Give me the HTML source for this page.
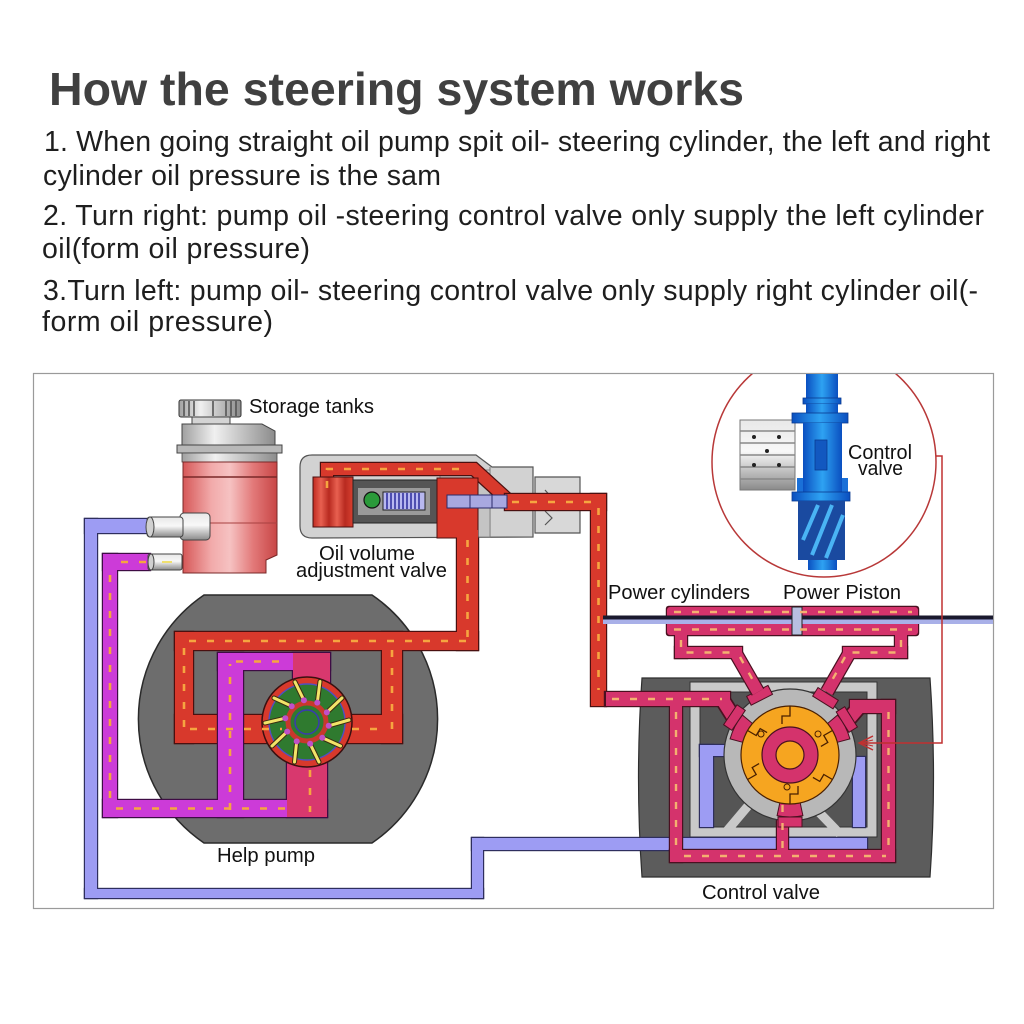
<!DOCTYPE html>
<html><head><meta charset="utf-8">
<style>
html,body{margin:0;padding:0;background:#fff;}
svg{display:block;}
text{font-family:"Liberation Sans",Arial,sans-serif;}
</style></head><body>
<svg width="1024" height="1024" viewBox="0 0 1024 1024" xmlns="http://www.w3.org/2000/svg">
<defs>
<linearGradient id="redg" x1="0" x2="1" y1="0" y2="0">
<stop offset="0" stop-color="#d65858"/><stop offset="0.3" stop-color="#f2aaaa"/><stop offset="0.5" stop-color="#f6c2c2"/><stop offset="0.75" stop-color="#e27878"/><stop offset="1" stop-color="#c84646"/>
</linearGradient>
<linearGradient id="grayg" x1="0" x2="1" y1="0" y2="0">
<stop offset="0" stop-color="#a0a0a0"/><stop offset="0.35" stop-color="#f0f0f0"/><stop offset="1" stop-color="#8c8c8c"/>
</linearGradient>
<linearGradient id="grayv" x1="0" x2="0" y1="0" y2="1">
<stop offset="0" stop-color="#e8e8e8"/><stop offset="0.45" stop-color="#f8f8f8"/><stop offset="1" stop-color="#8a8a8a"/>
</linearGradient>
<linearGradient id="blueg" x1="0" x2="1" y1="0" y2="0">
<stop offset="0" stop-color="#0a4fc0"/><stop offset="0.5" stop-color="#2ea2f2"/><stop offset="1" stop-color="#0a4fc0"/>
</linearGradient>
<linearGradient id="springg" x1="0" x2="1" y1="0" y2="0">
<stop offset="0" stop-color="#c02a20"/><stop offset="0.2" stop-color="#e86050"/><stop offset="0.4" stop-color="#b82a20"/><stop offset="0.6" stop-color="#e86050"/><stop offset="0.8" stop-color="#b82a20"/><stop offset="1" stop-color="#d84030"/>
</linearGradient>
<clipPath id="fr"><rect x="34" y="374" width="959" height="534"/></clipPath>
</defs>
<rect width="1024" height="1024" fill="#fff"/>

<!-- Heading text -->
<text x="49" y="105" font-size="46" font-weight="bold" fill="#404040" textLength="695" lengthAdjust="spacingAndGlyphs">How the steering system works</text>
<g font-size="28.5" fill="#1e1e1e">
<text x="44" y="151" textLength="946" lengthAdjust="spacing">1. When going straight oil pump spit oil- steering cylinder, the left and right</text>
<text x="43" y="185" textLength="398" lengthAdjust="spacing">cylinder oil pressure is the sam</text>
<text x="43" y="225" textLength="941" lengthAdjust="spacing">2. Turn right: pump oil -steering control valve only supply the left cylinder</text>
<text x="42" y="258" textLength="268" lengthAdjust="spacing">oil(form oil pressure)</text>
<text x="43" y="300" textLength="935" lengthAdjust="spacing">3.Turn left: pump oil- steering control valve only supply right cylinder oil(-</text>
<text x="42" y="331" textLength="231" lengthAdjust="spacing">form oil pressure)</text>
</g>

<!-- frame -->
<rect x="33.5" y="373.5" width="960" height="535" fill="#fff" stroke="#9a9a9a" stroke-width="1.2"/>

<g clip-path="url(#fr)">
<!-- inset ellipse -->
<ellipse cx="824" cy="462" rx="112" ry="115" fill="none" stroke="#b83838" stroke-width="1.5"/>

<!-- pump housing -->
<path d="M204,595 L372,595 A150,150 0 0 1 372,843 L204,843 A150,150 0 0 1 204,595 Z" fill="#6d6d6d" stroke="#2a2a2a" stroke-width="1.5"/>

<!-- red pump loop: outline -->
<g fill="#4a1010">
<rect x="455.8" y="528" width="23.4" height="123.2"/>
<rect x="173.8" y="630.8" width="305.4" height="20.4"/>
<rect x="173.8" y="630.8" width="20.4" height="113.4"/>
<rect x="173.8" y="713.8" width="229.4" height="30.4"/>
<rect x="380.8" y="630.8" width="22.4" height="113.4"/>
</g>
<g fill="#d8392c">
<rect x="457" y="528" width="21" height="122"/>
<rect x="175" y="632" width="303" height="18"/>
<rect x="175" y="632" width="18" height="111"/>
<rect x="175" y="715" width="227" height="28"/>
<rect x="382" y="632" width="20" height="111"/>
</g>

<!-- magenta channels -->
<g fill="#3e0c44">
<rect x="101.8" y="552.8" width="49.4" height="18.4"/>
<rect x="101.8" y="552.8" width="16.4" height="265.4"/>
<rect x="101.8" y="798.8" width="226.4" height="19.4"/>
<rect x="216.8" y="651.8" width="27.4" height="166.4"/>
<rect x="216.8" y="651.8" width="114.4" height="19.4"/>
<rect x="291.8" y="651.8" width="39.4" height="39.4"/>
<rect x="285.8" y="753.8" width="42.4" height="64.4"/>
</g>
<g fill="#cc3bd8">
<rect x="103" y="554" width="47" height="16"/>
<rect x="103" y="554" width="14" height="263"/>
<rect x="103" y="800" width="224" height="17"/>
<rect x="218" y="653" width="25" height="164"/>
<rect x="218" y="653" width="112" height="17"/>
</g>
<g fill="#d8386e">
<rect x="293" y="653" width="37" height="37"/>
<rect x="287" y="755" width="40" height="62"/>
</g>

<!-- pump rotor -->
<circle cx="307" cy="722" r="45" fill="#d8392c" stroke="#3a1010" stroke-width="1.5"/>
<circle cx="307" cy="722" r="38" fill="#2f7a2f" stroke="#5050c0" stroke-width="1.5"/>
<circle cx="307" cy="722" r="19" fill="none" stroke="#c8382c" stroke-width="5"/>
<circle cx="307" cy="722" r="12" fill="#2f7a2f" stroke="#3a3ab0" stroke-width="1.5"/>
<g stroke="#3a2a10" stroke-width="5" stroke-linecap="round">
<line x1="328.7" y1="725.8" x2="349" y2="720"/>
<line x1="322.3" y1="737.8" x2="340.5" y2="746"/>
<line x1="310.1" y1="743.8" x2="319" y2="762"/>
<line x1="296.7" y1="741.4" x2="294.5" y2="762"/>
<line x1="287.2" y1="731.6" x2="272" y2="746"/>
<line x1="285.3" y1="718.2" x2="265" y2="723"/>
<line x1="291.7" y1="706.2" x2="274" y2="698"/>
<line x1="303.9" y1="700.2" x2="295" y2="682"/>
<line x1="317.3" y1="702.6" x2="320" y2="681.5"/>
<line x1="326.8" y1="712.4" x2="342" y2="698"/>
</g>
<g stroke="#f2e468" stroke-width="3" stroke-linecap="round">
<line x1="328.7" y1="725.8" x2="349" y2="720"/>
<line x1="322.3" y1="737.8" x2="340.5" y2="746"/>
<line x1="310.1" y1="743.8" x2="319" y2="762"/>
<line x1="296.7" y1="741.4" x2="294.5" y2="762"/>
<line x1="287.2" y1="731.6" x2="272" y2="746"/>
<line x1="285.3" y1="718.2" x2="265" y2="723"/>
<line x1="291.7" y1="706.2" x2="274" y2="698"/>
<line x1="303.9" y1="700.2" x2="295" y2="682"/>
<line x1="317.3" y1="702.6" x2="320" y2="681.5"/>
<line x1="326.8" y1="712.4" x2="342" y2="698"/>
</g>
<g fill="#c050c8">
<circle cx="328.7" cy="725.8" r="3"/><circle cx="322.3" cy="737.8" r="3"/><circle cx="310.1" cy="743.8" r="3"/><circle cx="296.7" cy="741.4" r="3"/><circle cx="287.2" cy="731.6" r="3"/><circle cx="285.3" cy="718.2" r="3"/><circle cx="291.7" cy="706.2" r="3"/><circle cx="303.9" cy="700.2" r="3"/><circle cx="317.3" cy="702.6" r="3"/><circle cx="326.8" cy="712.4" r="3"/>
</g>

<!-- blue return pipe (left/bottom) -->
<g fill="#2e2e5e">
<rect x="83.8" y="517.8" width="64.4" height="16.4"/>
<rect x="83.8" y="517.8" width="14.4" height="381.4"/>
<rect x="83.8" y="887.8" width="400.4" height="11.4"/>
<rect x="470.8" y="836.8" width="13.4" height="62.4"/>
<rect x="470.8" y="836.8" width="170" height="14.4"/>
</g>
<g fill="#9d9cf3">
<rect x="85" y="519" width="63" height="14"/>
<rect x="85" y="519" width="12" height="379"/>
<rect x="85" y="889" width="398" height="9"/>
<rect x="472" y="838" width="11" height="60"/>
<rect x="472" y="838" width="170" height="12"/>
</g>

<!-- storage tank -->
<rect x="179" y="400" width="62" height="17" rx="2" fill="url(#grayg)" stroke="#333" stroke-width="1"/>
<g stroke="#555" stroke-width="1.6">
<line x1="184" y1="401" x2="184" y2="416"/><line x1="189" y1="401" x2="189" y2="416"/><line x1="194" y1="401" x2="194" y2="416"/><line x1="213" y1="401" x2="213" y2="416"/><line x1="226" y1="401" x2="226" y2="416"/><line x1="231" y1="401" x2="231" y2="416"/><line x1="236" y1="401" x2="236" y2="416"/>
</g>
<rect x="192" y="417" width="38" height="7" fill="#d4d4d4" stroke="#444" stroke-width="1"/>
<path d="M182,424 L262,424 L275,431 L275,445 L182,445 Z" fill="url(#grayg)" stroke="#444" stroke-width="1"/>
<rect x="177" y="445" width="105" height="8" fill="#b8b8b8" stroke="#444" stroke-width="1"/>
<rect x="182" y="453" width="95" height="9" fill="url(#grayg)" stroke="#444" stroke-width="0.8"/>
<path d="M183,462 H277 V555 L266,560 L266,573 H183 Z" fill="url(#redg)" stroke="#7a2828" stroke-width="1"/>
<line x1="183" y1="477" x2="277" y2="477" stroke="#7a2828" stroke-width="1.5"/>
<line x1="183" y1="523" x2="277" y2="523" stroke="#a84040" stroke-width="1"/>
<rect x="180" y="513" width="30" height="27" rx="4" fill="url(#grayv)" stroke="#444" stroke-width="1"/>
<rect x="147" y="517" width="36" height="20" rx="3" fill="url(#grayv)" stroke="#444" stroke-width="1"/>
<ellipse cx="150" cy="527" rx="4" ry="10" fill="#d0d0d0" stroke="#444" stroke-width="1"/>
<rect x="148" y="554" width="34" height="16" rx="2" fill="url(#grayv)" stroke="#444" stroke-width="1"/>
<ellipse cx="151" cy="562" rx="3" ry="8" fill="#d0d0d0" stroke="#444" stroke-width="1"/>
<line x1="162" y1="562" x2="172" y2="562" stroke="#f0e070" stroke-width="2"/>

<!-- oil volume adjustment valve -->
<path d="M300,467 Q300,455 312,455 L476,455 L492,467 L533,467 L533,537 L312,538 Q300,538 300,526 Z" fill="#d2d2d2" stroke="#555" stroke-width="1.2"/>
<line x1="490" y1="467" x2="490" y2="537" stroke="#777" stroke-width="1"/>
<rect x="440" y="470" width="50" height="67" fill="#c4c4c4" stroke="#777" stroke-width="0.8"/>
<path d="M535,477 H580 V533 H535 Z" fill="#d8d8d8" stroke="#555" stroke-width="1.2"/>
<path d="M545,490 L552,498 L545,506 M545,511 L552,518 L545,525" fill="none" stroke="#555" stroke-width="1.2"/>
<path d="M327,492 V469 H474 L508,500" fill="none" stroke="#4a1010" stroke-width="14.4" stroke-linejoin="miter"/>
<path d="M327,492 V469 H474 L508,500" fill="none" stroke="#d8392c" stroke-width="12" stroke-linejoin="miter"/>
<rect x="313" y="477" width="40" height="50" fill="url(#springg)" stroke="#4a1010" stroke-width="1"/>
<rect x="353" y="480" width="84" height="43" fill="#555" stroke="#222" stroke-width="1"/>
<rect x="358" y="488" width="72" height="27" fill="#9a9a9a"/>
<circle cx="372" cy="500" r="8" fill="#2a9a3a" stroke="#111" stroke-width="1.2"/>
<rect x="383" y="492" width="42" height="18" fill="#b8b8f0" stroke="#222" stroke-width="1"/>
<g stroke="#2a2a9a" stroke-width="1.5">
<line x1="387" y1="493" x2="387" y2="509"/><line x1="391" y1="493" x2="391" y2="509"/><line x1="395" y1="493" x2="395" y2="509"/><line x1="399" y1="493" x2="399" y2="509"/><line x1="403" y1="493" x2="403" y2="509"/><line x1="407" y1="493" x2="407" y2="509"/><line x1="411" y1="493" x2="411" y2="509"/><line x1="415" y1="493" x2="415" y2="509"/><line x1="419" y1="493" x2="419" y2="509"/>
</g>
<rect x="437" y="478" width="41" height="60" fill="#d8392c" stroke="#4a1010" stroke-width="1"/>
<rect x="457" y="530" width="21" height="10" fill="#d8392c"/>
<!-- red outlet pipe -->
<rect x="503.8" y="492.8" width="103.4" height="18.4" fill="#4a1010"/>
<rect x="589.8" y="492.8" width="17.4" height="214.4" fill="#4a1010"/>
<rect x="505" y="494" width="101" height="16" fill="#d8392c"/>
<rect x="591" y="494" width="15" height="212" fill="#d8392c"/>
<rect x="447" y="495" width="60" height="13" fill="#a8a8e0" stroke="#2a2a6a" stroke-width="1"/>
<line x1="470" y1="495" x2="470" y2="508" stroke="#2a2a6a" stroke-width="1"/>
<line x1="492" y1="495" x2="492" y2="508" stroke="#2a2a6a" stroke-width="1"/>

<!-- inset content -->
<rect x="740" y="420" width="55" height="70" fill="url(#grayv)" stroke="#777" stroke-width="1"/>
<g stroke="#888" stroke-width="1.5">
<line x1="740" y1="431" x2="795" y2="431"/><line x1="740" y1="443" x2="795" y2="443"/><line x1="740" y1="455" x2="795" y2="455"/><line x1="740" y1="467" x2="795" y2="467"/><line x1="740" y1="479" x2="795" y2="479"/>
</g>
<g fill="#222"><circle cx="754" cy="437" r="2"/><circle cx="779" cy="437" r="2"/><circle cx="767" cy="451" r="2"/><circle cx="754" cy="465" r="2"/><circle cx="779" cy="465" r="2"/></g>
<rect x="806" y="374" width="32" height="24" fill="url(#blueg)"/>
<rect x="803" y="398" width="38" height="6" fill="url(#blueg)" stroke="#0a3a90" stroke-width="0.8"/>
<rect x="806" y="404" width="32" height="9" fill="url(#blueg)"/>
<rect x="792" y="413" width="56" height="10" fill="url(#blueg)" stroke="#0a3a90" stroke-width="0.8"/>
<rect x="803" y="423" width="39" height="69" fill="url(#blueg)"/>
<rect x="815" y="440" width="12" height="30" fill="#1258c0" stroke="#0a3a90" stroke-width="0.8"/>
<rect x="797" y="478" width="6" height="14" fill="#1a70d8"/>
<rect x="842" y="478" width="6" height="14" fill="#1a70d8"/>
<rect x="792" y="492" width="58" height="9" fill="url(#blueg)" stroke="#0a3a90" stroke-width="0.8"/>
<rect x="798" y="501" width="47" height="59" fill="#1a4aa0"/>
<g stroke="#4ab4f4" stroke-width="4">
<line x1="803" y1="540" x2="818" y2="505"/><line x1="812" y1="555" x2="832" y2="505"/><line x1="826" y1="558" x2="843" y2="515"/>
</g>
<rect x="808" y="560" width="29" height="10" fill="url(#blueg)"/>

<!-- control valve housing -->
<path d="M642,678 H930 Q937,778 930,877 H642 Q635,778 642,678 Z" fill="#5c5c5c" stroke="#2e2e2e" stroke-width="1.2"/>
<rect x="695" y="687" width="177" height="145" fill="#555" stroke="#c9c9c9" stroke-width="10"/>
<rect x="690" y="682" width="187" height="155" fill="none" stroke="#333" stroke-width="1"/>
<rect x="700" y="692" width="167" height="135" fill="none" stroke="#333" stroke-width="1"/>
<!-- lavender -->
<g fill="#2e2e5e">
<rect x="698.8" y="743.8" width="62.4" height="13.4"/>
<rect x="698.8" y="743.8" width="15.4" height="84.4"/>
<rect x="851.8" y="755.8" width="14.4" height="72.4"/>
<rect x="640" y="836.8" width="228.2" height="14.4"/>
</g>
<g fill="#9d9cf3">
<rect x="700" y="745" width="60" height="11"/>
<rect x="700" y="745" width="13" height="82"/>
<rect x="853" y="757" width="12" height="70"/>
<rect x="638" y="838" width="229" height="12"/>
</g>
<g stroke="#c9c9c9" stroke-width="9">
<line x1="753" y1="800" x2="726" y2="832"/><line x1="812" y1="805" x2="840" y2="834"/>
</g>
<!-- pink channels outline -->
<g fill="#4a1020">
<rect x="603.8" y="690.8" width="127.4" height="16.4"/>
<rect x="668.8" y="698.8" width="14.4" height="164.4"/>
<rect x="668.8" y="848.8" width="227.4" height="14.4"/>
<rect x="880.8" y="698.8" width="15.4" height="164.4"/>
<rect x="848.8" y="698.8" width="47.4" height="15.4"/>
<rect x="775.8" y="793.8" width="13.4" height="58.4"/>
</g>
<g stroke="#4a1020" stroke-width="16.4">
<line x1="722" y1="699" x2="734" y2="718"/>
<line x1="860" y1="706" x2="848" y2="720"/>
</g>
<g fill="#d4336c">
<rect x="606" y="692" width="124" height="14"/>
<rect x="670" y="700" width="12" height="162"/>
<rect x="670" y="850" width="225" height="12"/>
<rect x="882" y="700" width="13" height="162"/>
<rect x="850" y="700" width="45" height="13"/>
<rect x="777" y="795" width="11" height="56"/>
</g>
<g stroke="#d4336c" stroke-width="13">
<line x1="722" y1="699" x2="734" y2="718"/>
<line x1="860" y1="706" x2="848" y2="720"/>
</g>
<!-- disc -->
<circle cx="790" cy="755" r="66" fill="#b8b8b8" stroke="#333" stroke-width="1.2"/>
<g fill="#d4336c" stroke="#4a1020" stroke-width="1">
<path d="M730.1,738.9 A62,62 0 0 1 742.5,715.1 L752.5,723.5 A49,49 0 0 0 742.7,742.3 Z"/>
<path d="M837.5,715.1 A62,62 0 0 1 849.9,738.9 L837.3,742.3 A49,49 0 0 0 827.5,723.5 Z"/>
<path d="M802.9,815.6 A62,62 0 0 1 777.1,815.6 L779.8,802.9 A49,49 0 0 0 800.2,802.9 Z"/>
</g>
<g fill="#d4336c" stroke="#4a1020" stroke-width="1">
<rect x="-12" y="-72" width="24" height="10" transform="translate(790 755) rotate(-56)"/>
<rect x="-12" y="-72" width="24" height="10" transform="translate(790 755) rotate(-27)"/>
<rect x="-12" y="-72" width="24" height="10" transform="translate(790 755) rotate(32)"/>
<rect x="-12" y="-72" width="24" height="10" transform="translate(790 755) rotate(58)"/>
<rect x="-12" y="-72" width="24" height="10" transform="translate(790 755) rotate(180)"/>
</g>
<!-- orange rotor -->
<circle cx="790" cy="755" r="49" fill="#f6a520" stroke="#4a2000" stroke-width="1.2"/>
<g stroke="#4a2000" stroke-width="1.3" fill="none">
<path d="M790,706 V716 H782 V724"/><path d="M832.4,730.5 L823.8,735.5 L827.8,742.4 L820.9,746.4"/>
<path d="M832.4,779.5 L823.8,774.5 L819.8,781.4 L812.9,777.4"/><path d="M790,804 V794 H798 V786"/>
<path d="M747.6,779.5 L756.2,774.5 L752.2,767.6 L759.1,763.6"/><path d="M747.6,730.5 L756.2,735.5 L760.2,728.6 L767.1,732.6"/>
</g>
<circle cx="790" cy="755" r="28" fill="#d4336c" stroke="#4a1020" stroke-width="1.2"/>
<circle cx="790" cy="755" r="14" fill="#f6a520" stroke="#4a1020" stroke-width="1.2"/>
<g fill="#f6a520" stroke="#4a2000" stroke-width="1"><circle cx="761" cy="734" r="3"/><circle cx="818" cy="734" r="3"/><circle cx="787" cy="787" r="3"/></g>

<!-- power cylinder -->
<g fill="#4a1020">
<rect x="665.8" y="605.8" width="253.4" height="30.4" rx="3"/>
<rect x="673.8" y="633.8" width="14.4" height="25.4"/>
<rect x="673.8" y="645.8" width="69.4" height="13.4"/>
<rect x="893.8" y="633.8" width="14.4" height="25.4"/>
<rect x="841.8" y="645.8" width="66.4" height="13.4"/>
</g>
<g stroke="#4a1020" stroke-width="14.4">
<line x1="735" y1="652" x2="758" y2="692"/>
<line x1="850" y1="652" x2="827" y2="692"/>
</g>
<g fill="#d4336c">
<rect x="667" y="607" width="251" height="28" rx="3"/>
<rect x="675" y="633" width="12" height="25"/>
<rect x="675" y="647" width="67" height="11"/>
<rect x="895" y="633" width="12" height="25"/>
<rect x="843" y="647" width="64" height="11"/>
</g>
<g stroke="#d4336c" stroke-width="12">
<line x1="735" y1="652" x2="758" y2="692"/>
<line x1="850" y1="652" x2="827" y2="692"/>
</g>
<rect x="603" y="615.5" width="392" height="4" fill="#1a1a2e"/>
<rect x="603" y="619.5" width="392" height="4.5" fill="#a9b0e8"/>
<rect x="792" y="607" width="10" height="28" fill="#b8c0e0" stroke="#222" stroke-width="1"/>

<!-- orange flow dashes -->
<g fill="none" stroke="#f6a540" stroke-width="2.6" stroke-dasharray="7 11">
<path d="M110,575 V800"/><path d="M146,562 H114"/><path d="M116,808.5 H285"/><path d="M230,810 V664"/><path d="M236,661.5 H290"/>
<path d="M467.5,540 V638"/><path d="M466,641 H186"/><path d="M184,648 V738"/><path d="M190,729 H282"/><path d="M352,729 H378"/><path d="M392,650 V738"/>
<path d="M310,770 V812"/>
<path d="M512,502 H596"/><path d="M598.5,508 V690"/>
<path d="M327,488 V469 H470"/>
</g>
<g fill="none" stroke="#f4b070" stroke-width="2.4" stroke-dasharray="7 11">
<path d="M612,699 H722"/><path d="M676,712 V852"/><path d="M684,856 H886"/><path d="M888.5,712 V852"/><path d="M782.5,805 V848"/>
<path d="M674,612 H912"/><path d="M674,629.5 H912"/><path d="M681,640 V652.5 H732"/><path d="M901,640 V652.5 H852"/>
<path d="M740,657 L755,684"/><path d="M845,657 L830,684"/>
</g>

<!-- red connector with arrow -->
<polyline points="936,456 942,456 942,743 860,743" fill="none" stroke="#c03030" stroke-width="1.5"/>
<polyline points="873,736 859,743 873,750" fill="none" stroke="#c03030" stroke-width="1.5"/>
<line x1="873" y1="740" x2="860" y2="743" stroke="#c03030" stroke-width="1"/>
<line x1="873" y1="746" x2="860" y2="743" stroke="#c03030" stroke-width="1"/>
</g>

<!-- labels -->
<g font-size="20" fill="#111">
<text x="249" y="413" textLength="125" lengthAdjust="spacingAndGlyphs">Storage tanks</text>
<text x="319" y="560" textLength="96" lengthAdjust="spacingAndGlyphs">Oil volume</text>
<text x="296" y="577" textLength="151" lengthAdjust="spacingAndGlyphs">adjustment valve</text>
<text x="848" y="459" textLength="64" lengthAdjust="spacingAndGlyphs">Control</text>
<text x="858" y="475" textLength="45" lengthAdjust="spacingAndGlyphs">valve</text>
<text x="608" y="599" textLength="142" lengthAdjust="spacingAndGlyphs">Power cylinders</text>
<text x="783" y="599" textLength="118" lengthAdjust="spacingAndGlyphs">Power Piston</text>
<text x="217" y="862" textLength="98" lengthAdjust="spacingAndGlyphs">Help pump</text>
<text x="702" y="899" textLength="118" lengthAdjust="spacingAndGlyphs">Control valve</text>
</g>
</svg>
</body></html>
